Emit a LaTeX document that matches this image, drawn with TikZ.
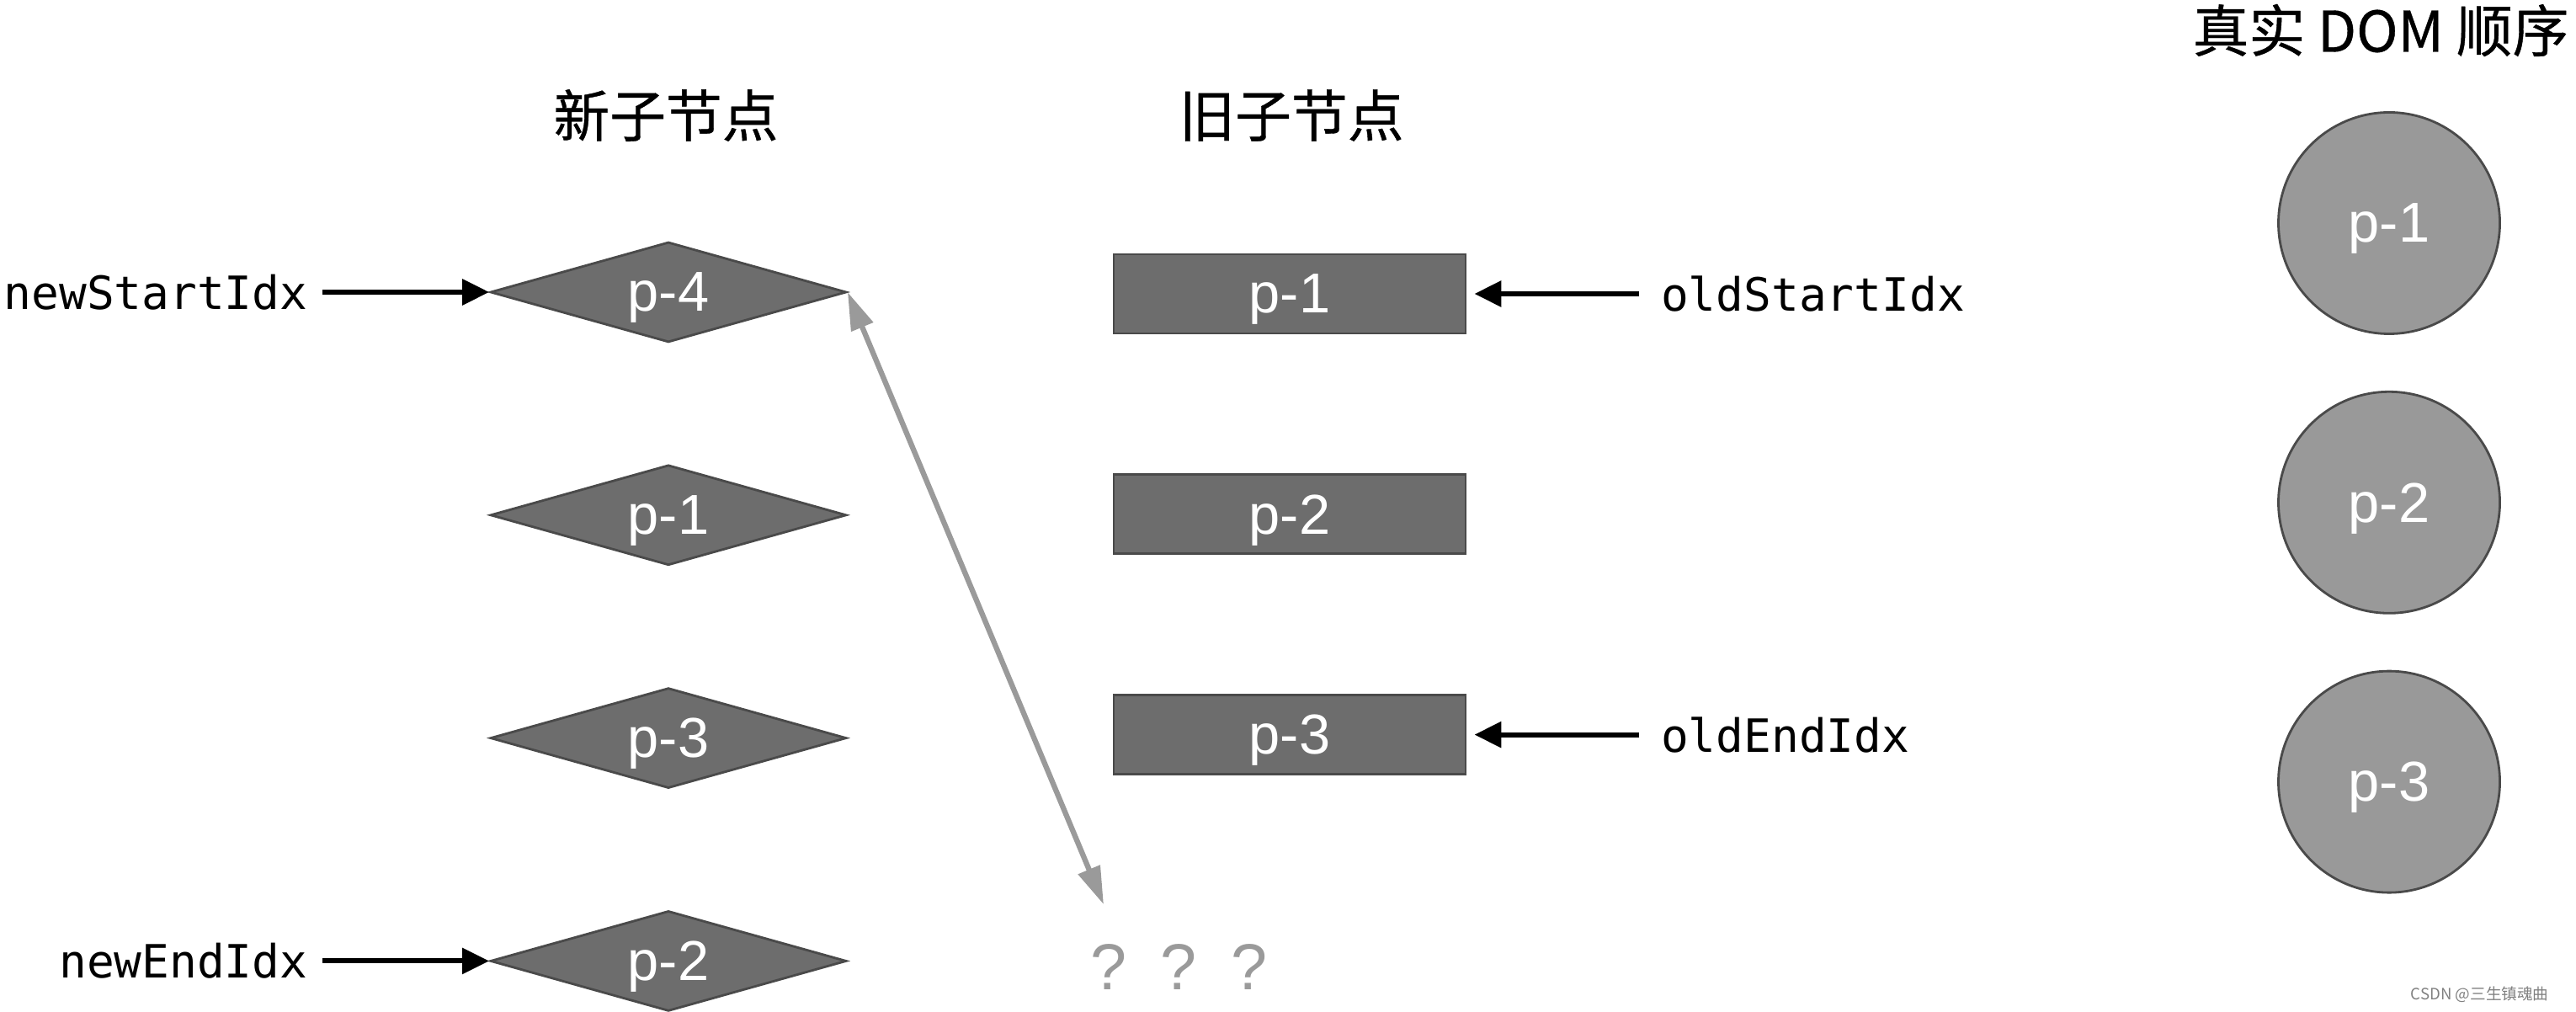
\documentclass[tikz,border=0pt]{standalone}
\usepackage{fontspec}
\setmainfont{Liberation Sans}
\setmonofont{DejaVu Sans Mono}
\newfontfamily\cjk{Noto Sans CJK SC}[FakeBold=0.6]
\newfontfamily\cjkmark{Noto Sans CJK SC}
\usetikzlibrary{shapes.geometric, arrows.meta, positioning}
\usepackage{xcolor}
\definecolor{NodeGray}{HTML}{6D6D6D}
\definecolor{EdgeGray}{HTML}{4A4A4A}
\definecolor{DomGray}{HTML}{999999}
\definecolor{LinkGray}{HTML}{9A9A9A}

\begin{document}
\begin{tikzpicture}[
        newnode/.style={diamond, draw=EdgeGray, fill=NodeGray, line width=0.8pt, aspect=3.55, minimum width=4.23cm, minimum height=1.19cm, inner sep=0pt, text=white, text depth=0pt, font=\fontsize{19}{22}\selectfont},
        oldnode/.style={rectangle, draw=EdgeGray, fill=NodeGray, line width=0.8pt, minimum width=4.18cm, minimum height=0.94cm, inner sep=0pt, text=white, text depth=0pt, font=\fontsize{19}{22}\selectfont},
        domnode/.style={circle, draw=EdgeGray, fill=DomGray, line width=0.8pt, minimum size=2.63cm, inner sep=0pt, text=white, text depth=0pt, font=\fontsize{19}{22}\selectfont},
        heading/.style={font=\cjk\fontsize{19}{22}\selectfont},
        idxlabel/.style={font=\ttfamily\fontsize{15.5}{18}\selectfont, inner sep=0pt},
        pointer/.style={draw=black, line width=1.7pt, -{Triangle[length=0.32cm, width=0.3cm]}},
        swapline/.style={draw=LinkGray, line width=1.8pt, {Triangle[length=0.45cm, width=0.27cm]}-{Triangle[length=0.45cm, width=0.27cm]}},
        unknown/.style={text=LinkGray, font=\fontsize{22}{26}\selectfont, inner sep=0pt}
    ]
        \useasboundingbox (0,0) rectangle (30.6,-12.02);

        % Headings
        \node (newhead) [heading] at (7.91,-1.37) {新子节点};
        \node (oldhead) [heading] at (15.34,-1.37) {旧子节点};
        \node (domhead) [heading] at (28.28,-0.36) {真实 DOM 顺序};

        % New children
        \node (np4) [newnode] at (7.94,-3.47) {p-4};
        \node (np1) [newnode, below=1.43cm of np4] {p-1};
        \node (np3) [newnode, below=1.43cm of np1] {p-3};
        \node (np2) [newnode, below=1.43cm of np3] {p-2};

        % Old children
        \node (op1) [oldnode] at (15.32,-3.49) {p-1};
        \node (op2) [oldnode, below=1.65cm of op1] {p-2};
        \node (op3) [oldnode, below=1.65cm of op2] {p-3};

        % Real DOM
        \node (dp1) [domnode] at (28.38,-2.65) {p-1};
        \node (dp2) [domnode, below=0.66cm of dp1] {p-2};
        \node (dp3) [domnode, below=0.66cm of dp2] {p-3};

        % Unknown slots
        \node (q1) [unknown, anchor=base] at (13.17,-11.75) {?};
        \node (q2) [unknown, right=0.39cm of q1] {?};
        \node (q3) [unknown, right=0.39cm of q2] {?};
        \coordinate (qtip) at ([xshift=-0.6mm, yshift=4.6mm]q1.north);

        % Index labels
        \node (newstart) [idxlabel, left=2.15cm of np4] {newStartIdx};
        \node (newend) [idxlabel, left=2.15cm of np2] {newEndIdx};
        \node (oldstart) [idxlabel, right=2.30cm of op1] {oldStartIdx};
        \node (oldend) [idxlabel, right=2.30cm of op3] {oldEndIdx};

        % Pointers
        \draw [pointer, shorten <=0.17cm] (newstart) -- (np4);
        \draw [pointer, shorten <=0.17cm] (newend) -- (np2);
        \draw [pointer, shorten <=0.25cm, shorten >=0.09cm] (oldstart) -- (op1);
        \draw [pointer, shorten <=0.25cm, shorten >=0.09cm] (oldend) -- (op3);
        \draw [swapline] (np4.east) -- (qtip);

        \node (mark) [anchor=east, text=gray, font=\cjkmark\fontsize{5.3}{6}\selectfont] at (30.4,-11.81) {CSDN @三生镇魂曲};
    \end{tikzpicture}
\end{document}
